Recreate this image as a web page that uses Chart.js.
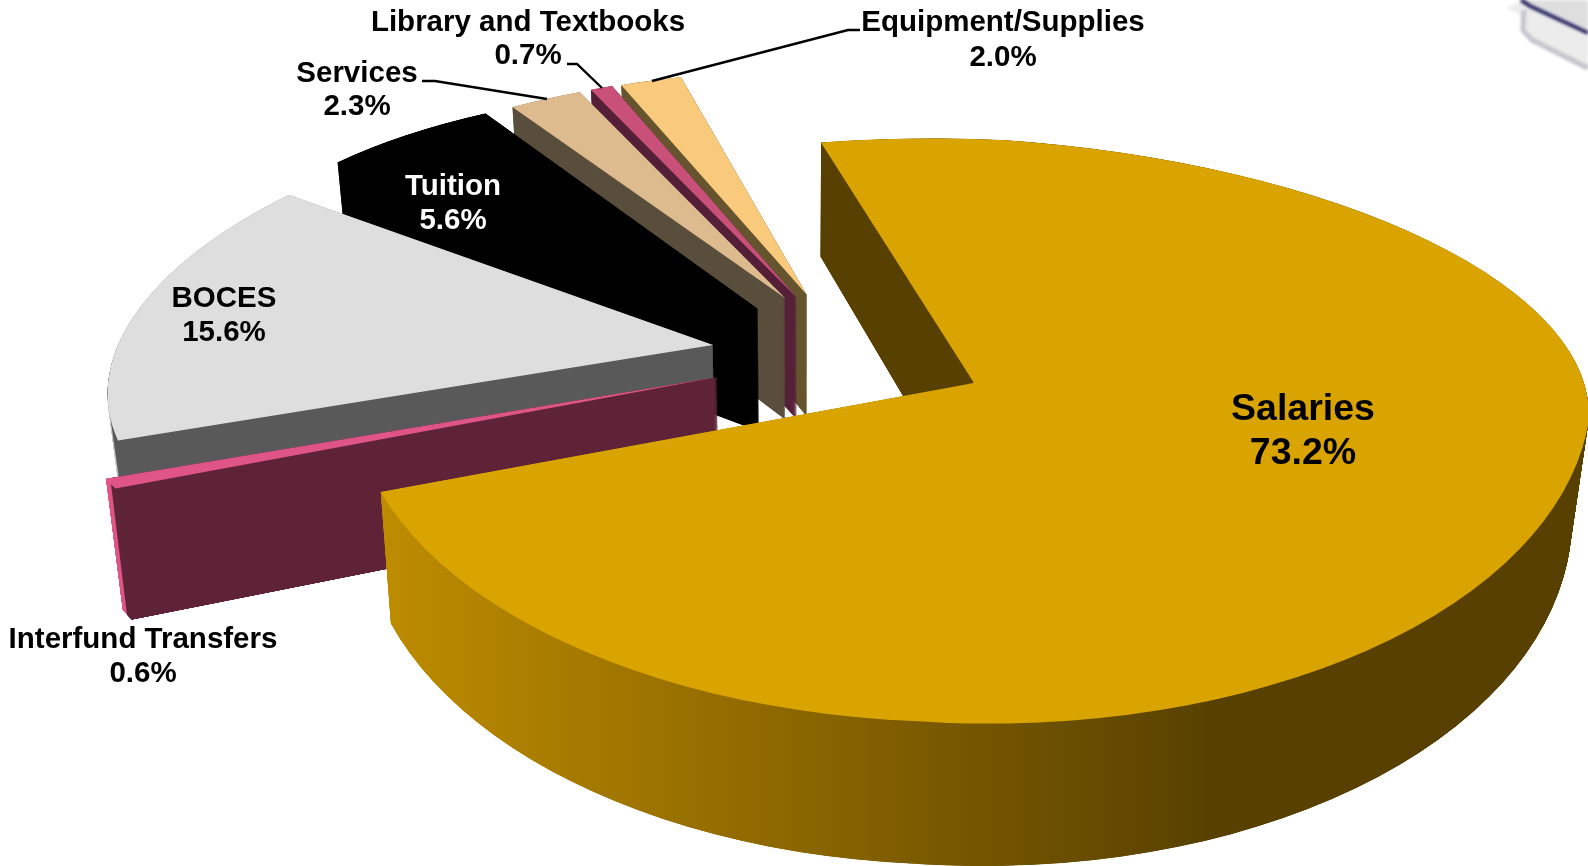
<!DOCTYPE html>
<html>
<head>
<meta charset="utf-8">
<title>Expenditures</title>
<script src="https://cdn.jsdelivr.net/npm/chart.js@4"></script>
<style>
    html, body { margin: 0; padding: 0; background: #fff; }
    canvas { display: block; }
</style>
</head>
<body>
<canvas id="budgetPie" width="1588" height="866"></canvas>
<script>
// ==================== DATA ====================
const categories = ['Salaries', 'Interfund Transfers', 'BOCES', 'Tuition', 'Services', 'Library and Textbooks', 'Equipment/Supplies'];
const shares = [73.2, 0.6, 15.6, 5.6, 2.3, 0.7, 2.0];
const topColors = ['#DAA400', '#DF5585', '#DEDEDE', '#000000', '#DDBB8E', '#C95078', '#F9C97C'];
const wallColors = ['#574000', '#5E2336', '#595959', '#000000', '#594D3B', '#561F38', '#66542F'];

// ==================== VIEW (fake 3D) ====================
// each slice gets its own projection of the unit circle: x = a*u + c*v, y = b*u + d*v around (x, y)
const slicePlacement = {
    1: { x: 718, y: 377, a: 657, b: 0, c: 0, d: 280 },
    2: { x: 713, y: 345, a: 595, b: 0, c: -112, d: 263 },
    3: { x: 758, y: 309, a: 548, b: 24, c: -51, d: 222 },
    4: { x: 785, y: 298, a: 524, b: 13, c: -34, d: 224 },
    5: { x: 797, y: 298, a: 518, b: 10, c: -30, d: 228 },
    6: { x: 807, y: 295, a: 500, b: 16, c: -21, d: 223 }
};
// the big slice is split in quadrants so the near side looks larger than the far side
const salariesView = { x: 974, y: 383, aLeft: 620, aRight: 614, bLeft: 28, bRight: 42, cUp: -29.5, cDown: -62, dUp: 243, dDown: 338 };
const paintOrder = [6, 5, 4, 3, 2, 1, 0];
const wallLayers = 600;
// thin outer-rim strips, left of the given line
const rimEdges = {
    1: { x1: 111, y1: 488, x2: 127, y2: 619, color: '#DF5585' },
    2: { x1: 113, y1: 440, x2: 118, y2: 475, color: '#C4C4C4' }
};

const labelFont = 'bold 29.5px "Liberation Sans", Arial, sans-serif';
const bigFont = 'bold 37.5px "Liberation Sans", Arial, sans-serif';
const labelSpots = [
    { x: 1303, y: 410, gap: 44, font: bigFont, color: '#000' },
    { x: 143, y: 640, gap: 34, font: labelFont, color: '#000' },
    { x: 224, y: 299, gap: 34, font: labelFont, color: '#000' },
    { x: 453, y: 187, gap: 34, font: labelFont, color: '#fff' },
    { x: 357, y: 74, gap: 33, font: labelFont, color: '#000' },
    { x: 528, y: 23, gap: 33, font: labelFont, color: '#000' },
    { x: 1003, y: 23, gap: 35, font: labelFont, color: '#000' }
];
const leaderLines = [
    [[422, 81], [435, 81], [547, 99]],
    [[567, 64], [577, 64], [602, 88]],
    [[652, 81], [848, 30], [860, 30]]
];

// ==================== DRAWING ====================
function viewPieces(index) {
    if (index !== 0) {
        return [Object.assign({ clip: null }, slicePlacement[index])];
    }
    const v = salariesView;
    const pieces = [];
    [-1, 1].forEach(sideV => {
        [-1, 1].forEach(sideU => {
            pieces.push({
                x: v.x, y: v.y,
                a: sideU < 0 ? v.aLeft : v.aRight,
                b: sideU < 0 ? v.bLeft : v.bRight,
                c: sideV < 0 ? v.cUp : v.cDown,
                d: sideV < 0 ? v.dUp : v.dDown,
                clip: [sideU, sideV]
            });
        });
    });
    return pieces;
}

function paintSlice(ctx, arc, index, t) {
    const r = arc.outerRadius;
    viewPieces(index).forEach(p => {
        ctx.save();
        // layer t goes down the wall, verticals lean in a bit towards the bottom
        ctx.transform(1 - 0.024 * t, 0, 0, 1 + 0.049 * t, 19.2 * t, 107 * t);
        ctx.transform(p.a / r, p.b / r, p.c / r, p.d / r, p.x, p.y);
        if (p.clip) {
            ctx.beginPath();
            ctx.rect(p.clip[0] < 0 ? -2 * r : -0.7, p.clip[1] < 0 ? -2 * r : -0.7, 2 * r + 0.7, 2 * r + 0.7);
            ctx.clip();
        }
        ctx.translate(-arc.x, -arc.y);
        arc.draw(ctx);
        ctx.restore();
    });
}

function fillWall(off, index, w, h) {
    off.globalCompositeOperation = 'source-in';
    if (index === 0) {
        const grad = off.createLinearGradient(380, 0, 1220, 0);
        grad.addColorStop(0, '#BE8C00');
        grad.addColorStop(1, wallColors[0]);
        off.fillStyle = grad;
        off.fillRect(0, 0, w, h);
        off.globalCompositeOperation = 'source-atop';
        off.fillStyle = wallColors[0];
        off.fillRect(800, 0, 300, 500);
    } else if (rimEdges[index]) {
        const e = rimEdges[index];
        const len = Math.hypot(e.x2 - e.x1, e.y2 - e.y1);
        const nx = (e.y2 - e.y1) / len, ny = -(e.x2 - e.x1) / len;
        const grad = off.createLinearGradient(e.x1, e.y1, e.x1 + nx, e.y1 + ny);
        grad.addColorStop(0, e.color);
        grad.addColorStop(1, wallColors[index]);
        off.fillStyle = grad;
        off.fillRect(0, 0, w, h);
    } else {
        off.fillStyle = wallColors[index];
        off.fillRect(0, 0, w, h);
    }
}

function drawBookCorner(ctx) {
    ctx.save();
    ctx.filter = 'blur(1.5px)';
    ctx.fillStyle = '#DEDEDE';
    ctx.beginPath();
    ctx.moveTo(1522, 0); ctx.lineTo(1588, 0); ctx.lineTo(1588, 32); ctx.lineTo(1540, 10);
    ctx.closePath(); ctx.fill();
    ctx.fillStyle = '#ECECEC';
    ctx.beginPath();
    ctx.moveTo(1506, 8); ctx.lineTo(1520, 2); ctx.lineTo(1588, 36); ctx.lineTo(1588, 70); ctx.lineTo(1530, 40); ctx.lineTo(1520, 14);
    ctx.closePath(); ctx.fill();
    ctx.strokeStyle = '#C4C4CC';
    ctx.lineWidth = 5;
    ctx.beginPath();
    ctx.moveTo(1524, 10); ctx.lineTo(1523, 30); ctx.lineTo(1532, 40); ctx.lineTo(1588, 68);
    ctx.stroke();
    ctx.strokeStyle = '#23235F';
    ctx.lineWidth = 4;
    ctx.beginPath();
    ctx.moveTo(1521, 0); ctx.lineTo(1530, 6); ctx.lineTo(1588, 33);
    ctx.stroke();
    ctx.restore();
}

const fakePiePlugin = {
    id: 'fakePie',
    beforeDatasetsDraw(chart) {
        const ctx = chart.ctx;
        const arcs = chart.getDatasetMeta(0).data;
        const w = chart.canvas.width, h = chart.canvas.height;

        drawBookCorner(ctx);

        paintOrder.forEach(index => {
            const arc = arcs[index];
            const layer = document.createElement('canvas');
            layer.width = w;
            layer.height = h;
            const off = layer.getContext('2d');
            for (let i = wallLayers; i >= 1; i--) {
                paintSlice(off, arc, index, i / wallLayers);
            }
            // the thinnest wedge goes faint near the tip, build the coverage back up
            if (index === 1) {
                for (let pass = 0; pass < 3; pass++) {
                    off.drawImage(layer, 0, 0);
                }
            }
            fillWall(off, index, w, h);
            ctx.drawImage(layer, 0, 0);
            paintSlice(ctx, arc, index, 0);
        });
        return false;
    },
    afterDraw(chart) {
        const ctx = chart.ctx;
        ctx.save();
        ctx.strokeStyle = '#000';
        ctx.lineWidth = 2.4;
        leaderLines.forEach(line => {
            ctx.beginPath();
            line.forEach((pt, i) => (i ? ctx.lineTo(pt[0], pt[1]) : ctx.moveTo(pt[0], pt[1])));
            ctx.stroke();
        });
        ctx.textAlign = 'center';
        ctx.textBaseline = 'middle';
        categories.forEach((name, i) => {
            const spot = labelSpots[i];
            ctx.font = spot.font;
            ctx.fillStyle = spot.color;
            ctx.fillText(name, spot.x, spot.y);
            ctx.fillText(shares[i].toFixed(1) + '%', spot.x, spot.y + spot.gap);
        });
        ctx.restore();
    }
};

// ==================== CHART ====================
new Chart(document.getElementById('budgetPie'), {
    type: 'pie',
    data: {
        labels: categories,
        datasets: [{ data: shares, backgroundColor: topColors, borderWidth: 0 }]
    },
    options: {
        responsive: false,
        animation: false,
        devicePixelRatio: 1,
        rotation: -17,
        plugins: { legend: { display: false }, tooltip: { enabled: false } }
    },
    plugins: [fakePiePlugin]
});
</script>
</body>
</html>
